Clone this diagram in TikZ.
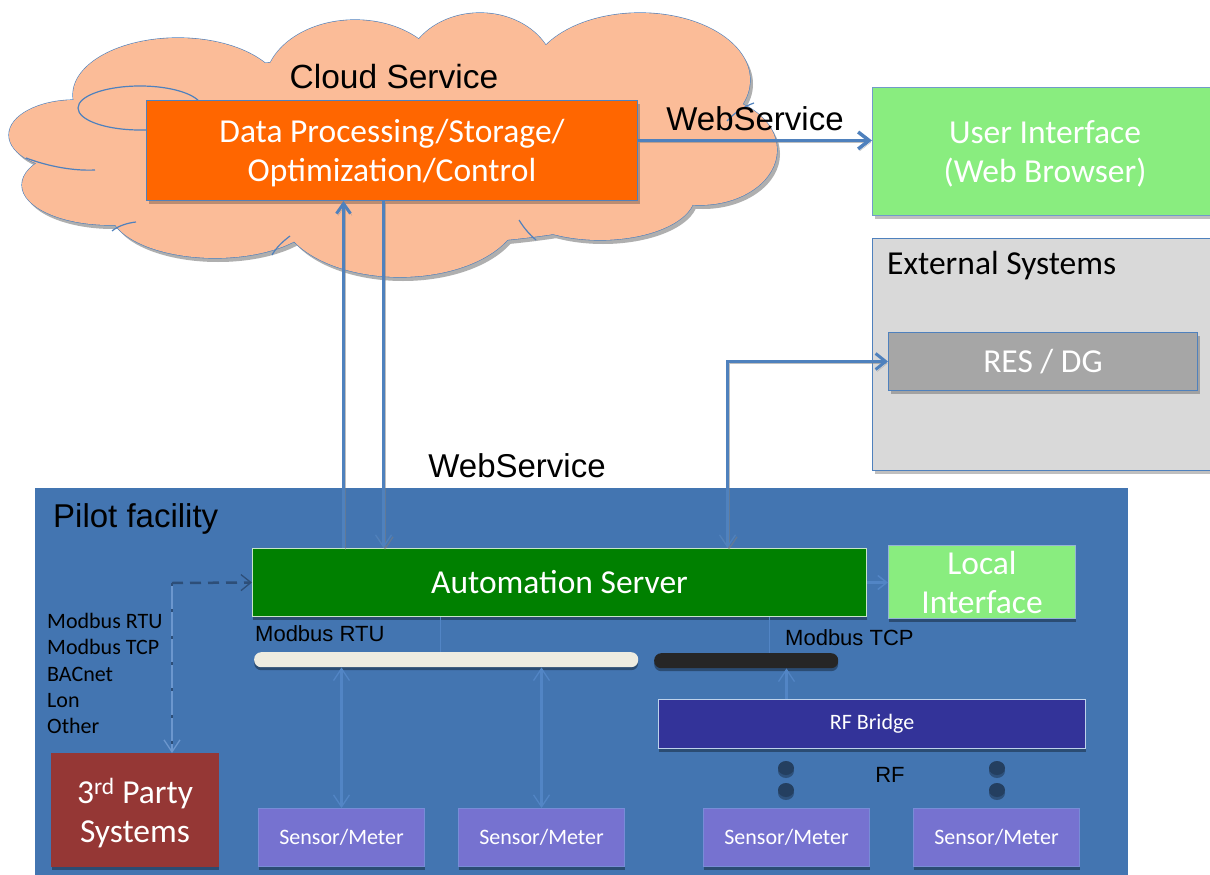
\documentclass[tikz,border=0pt]{standalone}
\usepackage{fontspec}
\setmainfont{Carlito}
\newfontfamily\arialfont{Liberation Sans}
\usetikzlibrary{arrows.meta,shadows}

\definecolor{cloudfill}{RGB}{251,188,152}
\definecolor{cloudshade}{RGB}{175,175,175}
\definecolor{lineblue}{RGB}{79,129,189}
\definecolor{procorange}{RGB}{255,102,0}
\definecolor{uigreen}{RGB}{137,237,127}
\definecolor{extgrey}{RGB}{217,217,217}
\definecolor{resgrey}{RGB}{166,166,166}
\definecolor{pilotblue}{RGB}{67,117,177}
\definecolor{asgreen}{RGB}{0,128,0}
\definecolor{asborder}{RGB}{200,230,200}
\definecolor{partyred}{RGB}{149,55,53}
\definecolor{sensorviolet}{RGB}{118,114,208}
\definecolor{sensorborder}{RGB}{120,140,215}
\definecolor{bridgeblue}{RGB}{51,51,153}
\definecolor{bridgeborder}{RGB}{190,210,235}
\definecolor{buswhite}{RGB}{238,236,225}
\definecolor{busblack}{RGB}{38,38,38}
\definecolor{dotnavy}{RGB}{36,63,96}
\definecolor{innerarrow}{RGB}{82,133,197}
\definecolor{dashdark}{RGB}{45,78,120}

\tikzset{
  box/.style={draw, line width=1pt, align=center, text=white, inner sep=0pt, anchor=north west},
  bigtext/.style={font=\fontsize{33.5}{39}\selectfont},
  smalltext/.style={font=\fontsize{22}{26.3}\selectfont},
  arialbig/.style={font=\arialfont\fontsize{33}{38}\selectfont},
  arialsmall/.style={font=\arialfont\fontsize{22}{26}\selectfont},
  boxshadow/.style={drop shadow={shadow xshift=0pt, shadow yshift=-3pt, fill=black, opacity=0.35}},
  greyshadow/.style={drop shadow={shadow xshift=2pt, shadow yshift=-3pt, fill=black, opacity=0.25}},
  cloudline/.style={draw=lineblue, line width=1.2pt},
  lineshade/.style={preaction={draw=black!50, opacity=0.5, transform canvas={shift={(1.5pt,-2pt)}}}},
  webarrow/.style={draw=lineblue, line width=3.5pt, lineshade},
  linkarrow/.style={draw=lineblue, line width=3pt, lineshade},
  innerlink/.style={draw=innerarrow, line width=2.5pt},
  bighead/.style={-{Straight Barb[length=11pt,width=17pt]}},
  vhead/.tip={Straight Barb[length=12pt,width=16pt,line width=1.3pt]},
  thinline/.style={draw=innerarrow, line width=1.5pt}
}

\begin{document}
\begin{tikzpicture}[x=1pt,y=-1pt]
\useasboundingbox (0,0) rectangle (1210,875);
\clip (0,0) rectangle (1210,875);
\fill[white] (0,0) rectangle (1210,875);

% ---------------- cloud ----------------
\def\lobes{178/95/105/57, 75/135/66/35, 110/185/88/40, 215/210/105/48,
  400/210/120/67, 600/195/95/45, 700/150/77/55, 640/80/110/67,
  480/75/75/62, 355/85/90/65, 400/150/330/95}
\foreach \cx/\cy/\rx/\ry in \lobes
  \fill[cloudshade] (\cx+3,\cy+4) ellipse [x radius=\rx pt, y radius=\ry pt];
\foreach \cx/\cy/\rx/\ry in \lobes
  \filldraw[fill=cloudfill, cloudline] (\cx,\cy) ellipse [x radius=\rx pt, y radius=\ry pt];
\foreach \cx/\cy/\rx/\ry in \lobes
  \fill[cloudfill] (\cx,\cy) ellipse [x radius=\rx pt, y radius=\ry pt];
% inner folds of the cloud
\draw[cloudline] (140,108) ellipse [x radius=62pt, y radius=22pt];
\draw[cloudline] (26,158) .. controls (50,167) and (75,171) .. (95,170);
\draw[cloudline] (112,231) .. controls (118,226) and (127,223) .. (136,222);
\draw[cloudline] (290,236) .. controls (282,242) and (276,248) .. (272,255);
\draw[cloudline] (519,220) .. controls (524,228) and (529,234) .. (536,240);
\draw[cloudline] (727,121) .. controls (735,112) and (745,106) .. (754,103);

\node[arialbig, font=\arialfont\fontsize{33.5}{38}\selectfont] (cloudtitle) at (394,77) {Cloud Service};
\node[box, bigtext, fill=procorange, draw=lineblue, minimum width=491pt,
      minimum height=100pt, text depth=0pt, greyshadow] (proc) at (146,100)
      {Data Processing/Storage/\\Optimization/Control};

% ---------------- right column ----------------
\node[box, bigtext, fill=uigreen, draw=lineblue!80, minimum width=345pt,
      minimum height=128pt, text depth=0pt, greyshadow] (ui) at (872,87) {User Interface\\(Web Browser)};
\node[box, fill=extgrey, draw=lineblue, minimum width=345pt,
      minimum height=232pt, greyshadow] (ext) at (872,238) {};
\node[anchor=west, bigtext, inner sep=0pt] (exttitle) at (887,266) {External Systems};
\node[box, bigtext, fill=resgrey, draw=lineblue, minimum width=309pt,
      minimum height=58pt, greyshadow] (res) at (888,332) {RES / DG};

% ---------------- pilot facility ----------------
\node[anchor=north west, fill=pilotblue, minimum width=1093pt, minimum height=400pt,
      inner sep=0pt] (pilot) at (35,488) {};
\node[anchor=west, arialbig, inner sep=0pt] (pilottitle) at (53,519) {Pilot facility};
\node[arialbig] (wslow) at (517,466) {WebService};

\node[box, bigtext, fill=asgreen, draw=asborder, minimum width=614pt,
      minimum height=68pt, boxshadow] (as) at (252,548) {Automation Server};
\node[box, bigtext, fill=uigreen, draw=lineblue!60, minimum width=187pt,
      minimum height=73pt, boxshadow] (local) at (888,545) {Local\\Interface};
\node[box, bigtext, fill=partyred, draw=partyred, minimum width=167pt,
      minimum height=113pt, text depth=0pt, boxshadow] (party) at (51,753) {3\textsuperscript{rd} Party\\Systems};

\node[anchor=west, smalltext, align=left, inner sep=0pt] (protocols) at (47,673.5)
  {Modbus RTU\\Modbus TCP\\BACnet\\Lon\\Other};

\node[anchor=west, arialsmall, inner sep=0pt] (rtulabel) at (255,634) {Modbus RTU};
\node[anchor=west, arialsmall, inner sep=0pt] (tcplabel) at (785,638) {Modbus TCP};

\node[anchor=north west, fill=buswhite, rounded corners=7pt, minimum width=384pt,
      minimum height=15pt, inner sep=0pt, boxshadow] (rtubus) at (254,652) {};
\node[anchor=north west, fill=busblack, rounded corners=7pt, minimum width=184pt,
      minimum height=15pt, inner sep=0pt, boxshadow] (tcpbus) at (654,653) {};

\node[box, smalltext, fill=bridgeblue, draw=bridgeborder, minimum width=427pt,
      minimum height=49pt, boxshadow] (bridge) at (658,699) {RF Bridge};

\node[box, smalltext, fill=sensorviolet, draw=sensorborder, minimum width=166pt,
      minimum height=58pt, boxshadow] (s1) at (258,808) {Sensor/Meter};
\node[box, smalltext, fill=sensorviolet, draw=sensorborder, minimum width=166pt,
      minimum height=58pt, boxshadow] (s2) at (458,808) {Sensor/Meter};
\node[box, smalltext, fill=sensorviolet, draw=sensorborder, minimum width=166pt,
      minimum height=58pt, boxshadow] (s3) at (703,808) {Sensor/Meter};
\node[box, smalltext, fill=sensorviolet, draw=sensorborder, minimum width=166pt,
      minimum height=58pt, boxshadow] (s4) at (913,808) {Sensor/Meter};

\node[arialsmall] (rflabel) at (890,775) {RF};

% radio antennas
\foreach \ax in {786,997}{
  \fill[black, opacity=0.3] (\ax,771) ellipse [x radius=8pt, y radius=7pt];
  \fill[dotnavy] (\ax,768) ellipse [x radius=8pt, y radius=7pt];
  \fill[black, opacity=0.3] (\ax,793) ellipse [x radius=8pt, y radius=7pt];
  \fill[dotnavy] (\ax,790) ellipse [x radius=8pt, y radius=7pt];
}

% ---------------- connectors ----------------
\node[arialbig] (wstop) at (755,119) {WebService};
\draw[webarrow, bighead] ([yshift=10pt]proc.east) -- ([yshift=10pt]proc.east -| ui.west);

\coordinate (upx) at ([xshift=-216pt]as.north);
\coordinate (downx) at ([xshift=-176pt]as.north);
\coordinate (resx) at ([xshift=168pt]as.north);
\draw[linkarrow, -{Straight Barb[length=10pt,width=14pt]}] (upx) -- (upx |- proc.south);
\draw[linkarrow, -{vhead}] (downx |- proc.south) -- (downx);
\draw[linkarrow, {vhead}-{Straight Barb[length=10pt,width=16pt]}] (resx) |- (res.west);

\draw[innerlink, -{Straight Barb[length=9pt,width=14pt,line width=1.5pt]}] (as.east) -- (as.east -| local.west);

\coordinate (split) at (172,583);
\draw[draw=dashdark, line width=2.5pt, dash pattern=on 11pt off 7pt,
      -{Straight Barb[length=10pt,width=16pt,line width=1.3pt]}] (split) -- (as.west);
\draw[draw=innerarrow!85!white, line width=2pt,
      -{Straight Barb[length=12pt,width=16pt,line width=1.3pt]},
      postaction={draw=dashdark, dash pattern=on 3pt off 23.3pt, -}]
      (split) -- (split |- party.north);

\coordinate (rtutap) at ([xshift=-119pt]as.south);
\coordinate (tcptap) at ([xshift=210pt]as.south);
\draw[thinline] (rtutap) -- (rtutap |- rtubus.north);
\draw[thinline] (tcptap) -- (tcptap |- tcpbus.north);

\draw[innerlink, {vhead}-{vhead}] (s1.north |- rtubus.south) -- (s1.north);
\draw[innerlink, {vhead}-{vhead}] (s2.north |- rtubus.south) -- (s2.north);
\draw[innerlink, -{vhead}] (s3.north |- bridge.north) -- (s3.north |- tcpbus.south);
\end{tikzpicture}
\end{document}
